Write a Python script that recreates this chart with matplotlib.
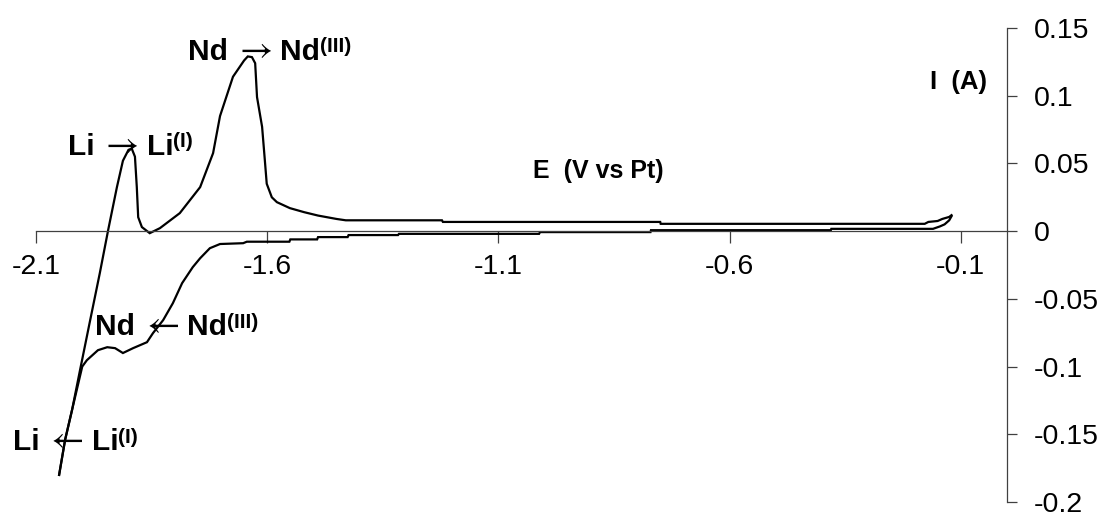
import numpy as np
import matplotlib
matplotlib.use("Agg")
import matplotlib.pyplot as plt

plt.rcParams['font.family'] = ['Liberation Sans', 'DejaVu Sans']

# cathodic sweep: from the rest potential down to Li deposition
E_cath = [-0.120, -0.125, -0.135, -0.145, -0.160, -0.380, -0.381, -0.770, -0.771,
          -1.010, -1.012, -1.315, -1.317, -1.424, -1.426, -1.490, -1.492, -1.550,
          -1.552, -1.644, -1.652, -1.702, -1.724, -1.745, -1.761, -1.784, -1.804,
          -1.825, -1.847, -1.860, -1.890, -1.912, -1.929, -1.946, -1.966, -1.990,
          -2.000, -2.022, -2.037, -2.050]
I_cath = [0.0110, 0.0080, 0.0050, 0.0035, 0.0017, 0.0017, 0.0007, 0.0007, -0.0007,
          -0.0007, -0.0020, -0.0020, -0.0029, -0.0029, -0.0044, -0.0044, -0.0061, -0.0061,
          -0.0078, -0.0078, -0.0089, -0.0095, -0.0126, -0.0200, -0.0266, -0.0384, -0.0532,
          -0.0657, -0.0753, -0.0820, -0.0864, -0.0900, -0.0864, -0.0857, -0.0879, -0.0953,
          -0.1000, -0.1320, -0.1540, -0.1800]

# anodic sweep back: Li stripping, then Nd stripping
E_anod = [-2.050, -2.037, -2.022, -2.005, -1.983, -1.962, -1.944, -1.925, -1.912,
          -1.900, -1.893, -1.886, -1.882, -1.879, -1.871, -1.854, -1.832, -1.789,
          -1.745, -1.717, -1.702, -1.674, -1.650, -1.642, -1.633, -1.626, -1.622,
          -1.611, -1.605, -1.601, -1.590, -1.579, -1.551, -1.520, -1.490, -1.450,
          -1.430, -1.222, -1.220, -0.750, -0.749, -0.178, -0.170, -0.150, -0.140,
          -0.125, -0.120]
I_anod = [-0.1800, -0.1540, -0.1320, -0.1030, -0.0660, -0.0310, 0.0007, 0.0325, 0.0520,
          0.0600, 0.0610, 0.0550, 0.0325, 0.0103, 0.0030, -0.0015, 0.0022, 0.0133,
          0.0325, 0.0576, 0.0850, 0.1140, 0.1260, 0.1290, 0.1285, 0.1240, 0.0990,
          0.0770, 0.0520, 0.0350, 0.0250, 0.0214, 0.0170, 0.0140, 0.0115, 0.0090,
          0.0080, 0.0080, 0.0068, 0.0068, 0.0054, 0.0054, 0.0068, 0.0075, 0.0090,
          0.0105, 0.0118]

x_ticks = [-2.1, -1.6, -1.1, -0.6, -0.1]
x_labels = ['-2.1', '-1.6', '-1.1', '-0.6', '-0.1']
y_ticks = [0.15, 0.1, 0.05, 0, -0.05, -0.1, -0.15, -0.2]
y_labels = ['0.15', '0.1', '0.05', '0', '-0.05', '-0.1', '-0.15', '-0.2']

fig = plt.figure(figsize=(11.08, 5.21), dpi=100)
ax = fig.add_axes([36 / 1108, 19 / 521, 971 / 1108, 474 / 521])

ax.plot(E_cath, I_cath, color='black', lw=1.6, solid_joinstyle='miter')
ax.plot(E_anod, I_anod, color='black', lw=1.6, solid_joinstyle='miter')

ax.set_xlim(-2.1, 0)
ax.set_ylim(-0.2, 0.15)

ax.spines['left'].set_visible(False)
ax.spines['top'].set_visible(False)
ax.spines['bottom'].set_position(('data', 0))
for s in ('bottom', 'right'):
    ax.spines[s].set_color('#404040')
    ax.spines[s].set_linewidth(0.9)

ax.yaxis.tick_right()
ax.set_xticks(x_ticks)
ax.set_xticklabels(x_labels)
ax.set_yticks(y_ticks)
ax.set_yticklabels(y_labels)
ax.tick_params(axis='x', direction='out', length=8.5, width=0.9, color='#404040',
               labelsize=20.5, pad=8)
ax.tick_params(axis='y', direction='out', length=7, width=0.9, color='#404040',
               labelsize=20.5, pad=12)

ax.text(-1.025, 0.039, 'E  (V vs Pt)', fontsize=18, fontweight='bold')
ax.text(-0.167, 0.105, 'I  (A)', fontsize=18.5, fontweight='bold')


def redox_label(x, y, left, arrow, right, sup):
    t1 = ax.text(x, y, left, fontsize=21.5, fontweight='bold', clip_on=False)
    # thin arrow from the STIX math font, between the two species
    t2 = ax.annotate('$' + arrow + '$', xy=(1, 0), xycoords=t1, va='bottom',
                     xytext=(4, 0), textcoords='offset points',
                     fontsize=26, math_fontfamily='stix')
    t3 = ax.annotate(right, xy=(1, 0), xycoords=t2, va='bottom',
                     xytext=(6, 0), textcoords='offset points',
                     fontsize=21.5, fontweight='bold')
    ax.annotate(sup, xy=(1, 1), xycoords=t3, va='top', xytext=(0, 0.5),
                textcoords='offset points', fontsize=15, fontweight='bold')


redox_label(-2.031, 0.0562, 'Li', r'\rightarrow', 'Li', '(I)')
redox_label(-1.771, 0.1264, 'Nd', r'\rightarrow', 'Nd', '(III)')
redox_label(-1.972, -0.0769, 'Nd', r'\leftarrow', 'Nd', '(III)')
redox_label(-2.150, -0.1618, 'Li', r'\leftarrow', 'Li', '(I)')

fig.savefig('out.png', dpi=100)
